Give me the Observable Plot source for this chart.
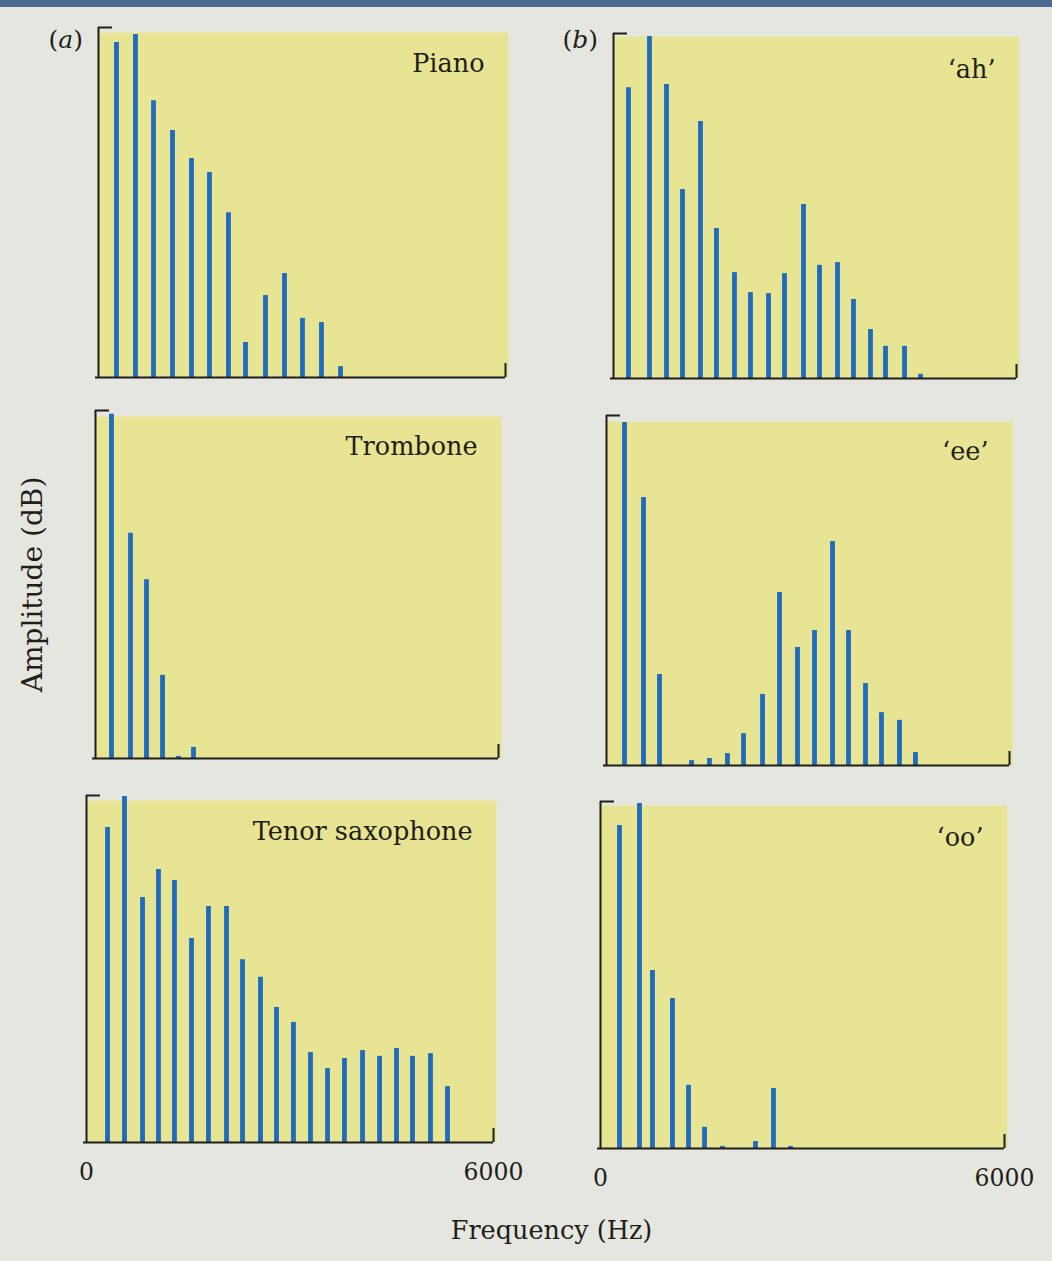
<!DOCTYPE html>
<html>
<head>
<meta charset="utf-8">
<script src="https://cdn.jsdelivr.net/npm/d3@7"></script>
<script src="https://cdn.jsdelivr.net/npm/@observablehq/plot@0.6"></script>
<style>
  html, body { margin: 0; padding: 0; background: #e6e6e1; }
  #fig { position: relative; width: 1052px; height: 1261px; background: #e6e6e1; overflow: hidden; }
  #band { position: absolute; left: 0; top: 0; width: 1052px; height: 7px; background: #4a6a92; }
</style>
</head>
<body>
<div id="fig"><div id="band"></div></div>
<script>
// ---- Data (frequency in Hz, amplitude in relative dB units, 100 = top of axis) ----
const pianoFreq = [265, 545, 811, 1091, 1371, 1636, 1916, 2167, 2462, 2742, 3007, 3287, 3568];
const pianoAmp  = [95.7, 98.0, 79.1, 70.6, 62.6, 58.6, 47.1, 10.0, 23.4, 29.7, 16.9, 15.7, 3.1];

const tromboneFreq = [238, 521, 759, 998, 1236, 1459];
const tromboneAmp  = [98.9, 64.7, 51.4, 23.9, 0.6, 3.2];

const saxFreq = [310, 560, 826, 1061, 1297, 1548, 1798, 2064, 2300, 2565, 2801,
                 3051, 3302, 3553, 3803, 4069, 4320, 4570, 4806, 5071, 5322];
const saxAmp  = [90.8, 99.7, 70.6, 78.7, 75.5, 58.8, 68.0, 68.0, 52.7, 47.6, 38.9,
                 34.6, 25.9, 21.3, 24.2, 26.5, 24.8, 27.1, 24.8, 25.6, 16.1];

const ahFreq = [223, 536, 789, 1027, 1295, 1533, 1801, 2039, 2308, 2546, 2829,
                3067, 3335, 3573, 3826, 4050, 4333, 4571];
const ahAmp  = [84.3, 99.1, 85.2, 54.8, 74.5, 43.5, 30.7, 24.9, 24.6, 30.4, 50.4,
                32.8, 33.6, 22.9, 14.2, 9.3, 9.3, 1.2];

const eeFreq = [268, 551, 789, 1266, 1533, 1801, 2040, 2323, 2576, 2844, 3097,
                3365, 3603, 3856, 4094, 4362, 4600];
const eeAmp  = [98.0, 76.6, 26.0, 1.4, 2.0, 3.4, 9.1, 20.3, 49.4, 33.7, 38.6,
                64.0, 38.6, 23.4, 15.1, 12.9, 3.7];

const ooFreq = [282, 579, 772, 1069, 1307, 1545, 1812, 2302, 2569, 2822];
const ooAmp  = [93.1, 99.4, 51.3, 43.2, 18.2, 6.1, 0.6, 2.0, 17.3, 0.6];

const panelTitles = ["Piano", "Trombone", "Tenor saxophone", "\u2018ah\u2019", "\u2018ee\u2019", "\u2018oo\u2019"];
const groupLabels = ["(a)", "(b)"];
const xTickValues = [0, 6000];
const yLabel = "Amplitude (dB)";
const xLabel = "Frequency (Hz)";

// ---- Layout (pixel positions of each panel's axes in the page) ----
const layout = [
  {freq: pianoFreq,    amp: pianoAmp,    left: 98,  right: 505,  top: 27,  bottom: 377,  yellowInset: 5, group: 0},
  {freq: tromboneFreq, amp: tromboneAmp, left: 95,  right: 498,  top: 410, bottom: 758,  yellowInset: 6, yLabel: true},
  {freq: saxFreq,      amp: saxAmp,      left: 86,  right: 493,  top: 795, bottom: 1142, yellowInset: 5, xTicks: true, xLabel: true},
  {freq: ahFreq,       amp: ahAmp,       left: 613, right: 1016, top: 33,  bottom: 378,  yellowInset: 3, group: 1},
  {freq: eeFreq,       amp: eeAmp,       left: 606, right: 1009, top: 415, bottom: 765,  yellowInset: 6},
  {freq: ooFreq,       amp: ooAmp,       left: 600, right: 1004, top: 801, bottom: 1148, yellowInset: 4, xTicks: true}
];

const YELLOW = "#e7e493";
const BLUE = "#1f6bbd";
const INK = "#1f1e19";
const M = 20;
const fig = document.getElementById("fig");

layout.forEach((p, i) => {
  const w = p.right - p.left;
  const h = p.bottom - p.top;
  const rows = p.freq.map((f, j) => ({f, a: p.amp[j]}));
  const marks = [
    Plot.frame({fill: YELLOW, stroke: "none", insetTop: p.yellowInset, insetRight: -3}),
    Plot.ruleX(rows, {x: "f", y1: 0, y2: "a", stroke: BLUE, strokeWidth: 4.8}),
    Plot.ruleX([0], {stroke: INK, strokeWidth: 2}),
    Plot.ruleY([0], {stroke: INK, strokeWidth: 2, insetLeft: -3}),
    Plot.ruleY([100], {stroke: INK, strokeWidth: 2, insetRight: w - 14}),
    Plot.ruleX([6000], {stroke: INK, strokeWidth: 2, insetTop: h - 14}),
    Plot.text([panelTitles[i]], {frameAnchor: "top-right", dx: -21, dy: 44, lineAnchor: "bottom",
      textAnchor: "end", fontSize: 25.5, fill: INK})
  ];
  if (p.group !== undefined) {
    marks.push(Plot.text([groupLabels[p.group]], {frameAnchor: "top-left", dx: p.group === 0 ? -50 : -51,
      dy: p.group === 0 ? 20 : 14, lineAnchor: "bottom", textAnchor: "start", fontSize: 25, fill: INK}));
  }
  if (p.xTicks) {
    marks.push(Plot.axisX(xTickValues, {tickSize: 0, tickPadding: 21, tickFormat: d => String(d),
      label: null, fontSize: 23.5, fill: INK}));
  }
  if (p.yLabel) {
    marks.push(Plot.text([yLabel], {frameAnchor: "left", dx: -62, rotate: -90, textAnchor: "middle",
      lineAnchor: "middle", fontSize: 28, fill: INK}));
  }
  if (p.xLabel) {
    marks.push(Plot.text([xLabel], {frameAnchor: "bottom-right", dx: 58, dy: 96, textAnchor: "middle",
      lineAnchor: "bottom", fontSize: 25.5, fill: INK}));
  }
  const svg = Plot.plot({
    width: w + 2 * M,
    height: h + 2 * M,
    marginLeft: M, marginRight: M, marginTop: M, marginBottom: M,
    x: {domain: [0, 6000], axis: null},
    y: {domain: [0, 100], axis: null},
    style: {background: "transparent", overflow: "visible", fontFamily: "'DejaVu Serif', serif",
      fontSize: "23px", color: INK},
    marks
  });
  svg.querySelectorAll("text").forEach(t => {
    const m = t.textContent.match(/^\(([ab])\)$/);
    if (m) {
      t.textContent = "";
      ["(", m[1], ")"].forEach((s, k) => {
        const ts = document.createElementNS("http://www.w3.org/2000/svg", "tspan");
        ts.textContent = s;
        if (k === 1) ts.setAttribute("font-style", "italic");
        t.appendChild(ts);
      });
    }
  });
  svg.style.position = "absolute";
  svg.style.left = (p.left - M) + "px";
  svg.style.top = (p.top - M) + "px";
  fig.appendChild(svg);
});
</script>
</body>
</html>
